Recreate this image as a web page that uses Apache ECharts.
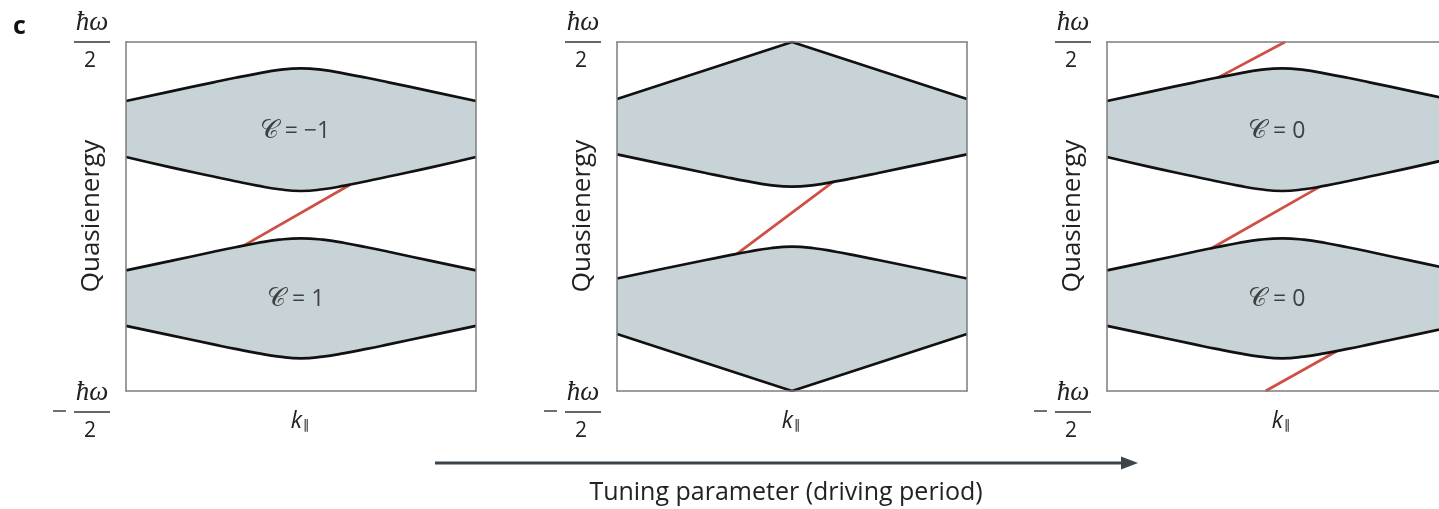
<!DOCTYPE html>
<html>
<head>
<meta charset="utf-8">
<script src="https://cdn.jsdelivr.net/npm/echarts@6/dist/echarts.min.js"></script>
<style>
  html, body { margin: 0; padding: 0; background: #ffffff; }
  #chart { width: 1439px; height: 509px; }
</style>
</head>
<body>
<div id="chart"></div>
<script>
// Crystal momentum k∥ (scaled to the zone, -1 … 1) and quasienergy in units of ħω/2.
const kGrid = [-1, -0.75, -0.5, -0.375, -0.25, -0.125, 0, 0.125, 0.25, 0.375, 0.5, 0.75, 1];
const kCusp = [-1, 0, 1];

// Gapped Floquet bands (first and last phase)
const upperTopA = [0.662, 0.716, 0.769, 0.795, 0.819, 0.840, 0.849, 0.840, 0.819, 0.795, 0.769, 0.716, 0.662];
const upperBotA = [0.341, 0.283, 0.229, 0.202, 0.177, 0.156, 0.146, 0.156, 0.177, 0.202, 0.229, 0.283, 0.341];
const lowerTopA = [-0.309, -0.256, -0.202, -0.176, -0.152, -0.133, -0.125, -0.133, -0.152, -0.176, -0.202, -0.256, -0.309];
const lowerBotA = [-0.627, -0.680, -0.733, -0.759, -0.783, -0.803, -0.813, -0.803, -0.783, -0.759, -0.733, -0.680, -0.627];

// Transition point: bands touch the zone edge ±ħω/2
const upperTopB = [0.673, 1.0, 0.673];
const upperBotB = [0.356, 0.303, 0.251, 0.225, 0.201, 0.180, 0.171, 0.180, 0.201, 0.225, 0.251, 0.303, 0.356];
const lowerTopB = [-0.355, -0.302, -0.251, -0.226, -0.202, -0.182, -0.173, -0.182, -0.202, -0.226, -0.251, -0.302, -0.355];
const lowerBotB = [-0.673, -1.0, -0.673];

// Chiral edge states (k, quasienergy)
const edgeState1 = [[-0.33, -0.168], [0.28, 0.182]];
const edgeState2 = [[-0.315, -0.214], [0.235, 0.198]];
const edgeState3a = [[-0.363, 0.797], [0.017, 1.0]];
const edgeState3b = [[-0.41, -0.186], [0.217, 0.171]];
const edgeState3c = [[-0.094, -1.0], [0.312, -0.772]];

// Chern numbers of the bands: [value, k, quasienergy]
const chernLabels = [
  [['−1', -0.035, 0.49], ['1', -0.03, -0.473]],
  [],
  [['0', -0.03, 0.49], ['0', -0.03, -0.473]]
];

const panelLeft = [126, 617, 1107];
const panelWidth = 350;
const FILL = '#c7d3d7';
const EDGE = '#111111';
const RED = '#cf4f47';
const FRAME = '#7d7d7d';
const SANS = 'Open Sans, Noto Sans, sans-serif';
const SERIF_IT = 'Liberation Serif, DejaVu Serif, serif';

const chart = echarts.init(document.getElementById('chart'), null, { renderer: 'canvas' });

const grids = [], xAxes = [], yAxes = [], series = [];

function frameAxis(extra) {
  return Object.assign({
    type: 'value', min: -1, max: 1, z: 10,
    axisLine: { show: true, onZero: false, lineStyle: { color: FRAME, width: 1.5 } },
    axisTick: { show: false }, axisLabel: { show: false }, splitLine: { show: false }
  }, extra);
}

function bandFill(g, kLo, lo, kHi, hi) {
  return {
    type: 'custom', xAxisIndex: 2 * g, yAxisIndex: 2 * g, z: 2, silent: true, clip: true,
    data: kLo.map((k, i) => [k, lo[i]]),
    renderItem: (params, api) => {
      if (params.dataIndex !== 0) return null;
      const pts = kLo.map((k, i) => api.coord([k, lo[i]]));
      for (let i = kHi.length - 1; i >= 0; i--) pts.push(api.coord([kHi[i], hi[i]]));
      return { type: 'polygon', shape: { points: pts }, style: { fill: FILL } };
    }
  };
}

function edgeLine(g, ks, ys, smooth) {
  return {
    type: 'line', xAxisIndex: 2 * g, yAxisIndex: 2 * g, z: 5, silent: true,
    data: ks.map((k, i) => [k, ys[i]]), smooth: smooth, symbol: 'none',
    lineStyle: { color: EDGE, width: 2.7 }
  };
}

function edgeState(g, pts) {
  return {
    type: 'line', xAxisIndex: 2 * g, yAxisIndex: 2 * g, z: 4, silent: true,
    data: pts, symbol: 'none', lineStyle: { color: RED, width: 2.7 }
  };
}

function labelSeries(g, items) {
  return {
    type: 'scatter', xAxisIndex: 2 * g, yAxisIndex: 2 * g, z: 6, silent: true,
    symbolSize: 0,
    data: items.map(it => ({ value: [it[1], it[2]], name: it[0] })),
    label: {
      show: true, position: 'inside',
      formatter: p => '{c|𝒞}{t| = ' + p.name + '}',
      rich: {
        c: { fontSize: 26, fontFamily: 'DejaVu Serif, serif', color: '#1a1a1a' },
        t: { fontSize: 23, fontFamily: SANS, color: '#1a1a1a' }
      }
    }
  };
}

for (let g = 0; g < 3; g++) {
  grids.push({ left: panelLeft[g], top: 42, width: panelWidth, height: 349, containLabel: false, outerBoundsMode: 'none' });
  xAxes.push(frameAxis({ gridIndex: g, position: 'bottom' }));
  xAxes.push(frameAxis({ gridIndex: g, position: 'top' }));
  yAxes.push(frameAxis({ gridIndex: g, position: 'left' }));
  yAxes.push(frameAxis({ gridIndex: g, position: 'right' }));
}

// Panel 1: C = -1 / C = 1
series.push(bandFill(0, kGrid, upperBotA, kGrid, upperTopA));
series.push(bandFill(0, kGrid, lowerBotA, kGrid, lowerTopA));
[upperTopA, upperBotA, lowerTopA, lowerBotA].forEach(a => series.push(edgeLine(0, kGrid, a, 0.5)));
series.push(edgeState(0, edgeState1));
series.push(labelSeries(0, chernLabels[0]));

// Panel 2: gap closing at the zone edge
series.push(bandFill(1, kGrid, upperBotB, kCusp, upperTopB));
series.push(bandFill(1, kCusp, lowerBotB, kGrid, lowerTopB));
series.push(edgeLine(1, kCusp, upperTopB, false));
series.push(edgeLine(1, kGrid, upperBotB, 0.5));
series.push(edgeLine(1, kGrid, lowerTopB, 0.5));
series.push(edgeLine(1, kCusp, lowerBotB, false));
series.push(edgeState(1, edgeState2));

// Panel 3: C = 0 / C = 0 with anomalous edge states in both gaps
series.push(bandFill(2, kGrid, upperBotA, kGrid, upperTopA));
series.push(bandFill(2, kGrid, lowerBotA, kGrid, lowerTopA));
[upperTopA, upperBotA, lowerTopA, lowerBotA].forEach(a => series.push(edgeLine(2, kGrid, a, 0.5)));
series.push(edgeState(2, edgeState3a));
series.push(edgeState(2, edgeState3b));
series.push(edgeState(2, edgeState3c));
series.push(labelSeries(2, chernLabels[2]));

// Axis annotations drawn as text
const graphics = [];

graphics.push({ type: 'text', left: 13, top: 14, style: { text: 'c', font: 'bold 25px ' + SANS, fill: '#111' } });

panelLeft.forEach(left => {
  const dx = left - 126;
  const cx = 91 + dx;
  // +ħω/2
  graphics.push({ type: 'text', x: cx + 1, y: 23, style: { text: 'ħω', font: 'italic 27px ' + SERIF_IT, fill: '#222', align: 'center', verticalAlign: 'middle' } });
  graphics.push({ type: 'line', shape: { x1: cx - 17, y1: 42, x2: cx + 19, y2: 42 }, style: { stroke: '#333', lineWidth: 1.4 } });
  graphics.push({ type: 'text', x: cx - 1, y: 61, style: { text: '2', font: '21px ' + SANS, fill: '#222', align: 'center', verticalAlign: 'middle' } });
  // -ħω/2
  graphics.push({ type: 'text', x: cx + 1, y: 393, style: { text: 'ħω', font: 'italic 27px ' + SERIF_IT, fill: '#222', align: 'center', verticalAlign: 'middle' } });
  graphics.push({ type: 'line', shape: { x1: cx - 17, y1: 412, x2: cx + 19, y2: 412 }, style: { stroke: '#333', lineWidth: 1.4 } });
  graphics.push({ type: 'text', x: cx - 1, y: 431, style: { text: '2', font: '21px ' + SANS, fill: '#222', align: 'center', verticalAlign: 'middle' } });
  graphics.push({ type: 'line', shape: { x1: cx - 38, y1: 411, x2: cx - 25, y2: 411 }, style: { stroke: '#333', lineWidth: 1.4 } });
  // Quasienergy
  graphics.push({ type: 'text', x: 92 + dx, y: 216, rotation: Math.PI / 2, style: { text: 'Quasienergy', font: '26px ' + SANS, fill: '#222', align: 'center', verticalAlign: 'middle' } });
  // k∥
  graphics.push({ type: 'text', x: 300 + dx, y: 421, style: {
    text: '{k|k}{s|∥}', align: 'center', verticalAlign: 'middle',
    rich: { k: { font: 'italic 23px ' + SANS, fill: '#222' }, s: { font: '13px DejaVu Sans', fill: '#222', padding: [10, 0, 0, 1] } }
  } });
});

// Tuning arrow
graphics.push({ type: 'line', shape: { x1: 435, y1: 463, x2: 1124, y2: 463 }, style: { stroke: '#3b4449', lineWidth: 3 } });
graphics.push({ type: 'polygon', shape: { points: [[1138, 463], [1121, 456.5], [1121, 469.5]] }, style: { fill: '#3b4449' } });
graphics.push({ type: 'text', x: 786, y: 493, style: { text: 'Tuning parameter (driving period)', font: '25px ' + SANS, fill: '#222', align: 'center', verticalAlign: 'middle' } });

chart.setOption({
  animation: false,
  backgroundColor: '#ffffff',
  grid: grids,
  xAxis: xAxes,
  yAxis: yAxes,
  series: series,
  graphic: graphics
});
</script>
</body>
</html>
